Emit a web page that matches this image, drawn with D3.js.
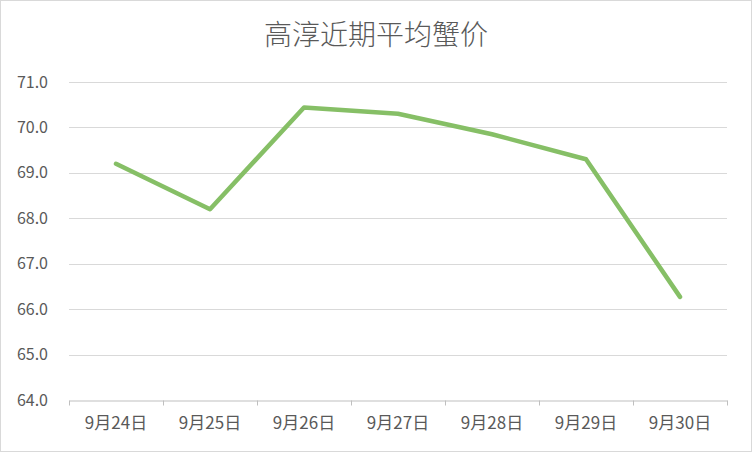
<!DOCTYPE html>
<html>
<head>
<meta charset="utf-8">
<script src="https://cdn.jsdelivr.net/npm/d3@7"></script>
<style>
  body { margin: 0; background: #fff; }
  svg { display: block; }
</style>
</head>
<body>
<svg id="chart"></svg>
<script>
// data
const title = "高淳近期平均蟹价"
const days = ["9月24日", "9月25日", "9月26日", "9月27日", "9月28日", "9月29日", "9月30日"]
const prices = [69.2, 68.2, 70.44, 70.3, 69.85, 69.3, 66.27]
const yTicks = [64, 65, 66, 67, 68, 69, 70, 71]

const width = 752
const height = 452
const margin = { top: 82, right: 24, bottom: 52, left: 69 }
const font = "'Noto Sans CJK SC', 'Noto Sans', sans-serif"

const svg = d3.select('#chart')
    .attr('width', width)
    .attr('height', height)

// chart area border
svg.append('rect')
    .attr('x', 0.5).attr('y', 0.5)
    .attr('width', width - 1).attr('height', height - 1)
    .attr('fill', '#fff')
    .attr('stroke', '#d9d9d9')

const x = d3.scaleBand()
    .domain(days)
    .range([margin.left, width - margin.right - 1])

const y = d3.scaleLinear()
    .domain([64, 71])
    .range([height - margin.bottom, margin.top])

// gridlines
svg.append('g')
    .selectAll('line')
    .data(yTicks.filter(d => d > 64))
    .join('line')
    .attr('x1', margin.left)
    .attr('x2', width - margin.right - 1)
    .attr('y1', d => Math.round(y(d)) + 0.5)
    .attr('y2', d => Math.round(y(d)) + 0.5)
    .attr('stroke', '#d9d9d9')
    .attr('stroke-width', 1)

// y labels
svg.append('g')
    .selectAll('text')
    .data(yTicks)
    .join('text')
    .attr('x', 48)
    .attr('y', d => y(d))
    .attr('dy', '0.35em')
    .attr('text-anchor', 'end')
    .attr('font-family', font)
    .attr('font-size', 16)
    .attr('fill', '#595959')
    .text(d => d.toFixed(1))

// x axis with tick marks between categories
const xAxis = d3.axisBottom(x).tickSize(0).tickPadding(16)
const gx = svg.append('g')
    .attr('transform', `translate(0,${Math.round(y(64)) + 0.5})`)
    .call(xAxis)
gx.select('.domain').attr('stroke', '#bfbfbf')
gx.selectAll('text')
    .attr('font-family', font)
    .attr('font-size', 17)
    .attr('fill', '#595959')
gx.selectAll('.sep')
    .data(d3.range(days.length + 1))
    .join('line')
    .attr('class', 'sep')
    .attr('x1', i => Math.round(margin.left + i * x.step()) + 0.5)
    .attr('x2', i => Math.round(margin.left + i * x.step()) + 0.5)
    .attr('y1', 0)
    .attr('y2', 5)
    .attr('stroke', '#bfbfbf')

// the price line
const line = d3.line()
    .x((d, i) => x(days[i]) + x.bandwidth() / 2)
    .y(d => y(d))

svg.append('path')
    .datum(prices)
    .attr('d', line)
    .attr('fill', 'none')
    .attr('stroke', '#86bf66')
    .attr('stroke-width', 4.5)
    .attr('stroke-linejoin', 'round')
    .attr('stroke-linecap', 'round')

// title
svg.append('text')
    .attr('x', width / 2)
    .attr('y', 45)
    .attr('text-anchor', 'middle')
    .attr('font-family', font)
    .attr('font-size', 28)
    .attr('font-weight', 300)
    .attr('fill', '#595959')
    .text(title)
</script>
</body>
</html>
